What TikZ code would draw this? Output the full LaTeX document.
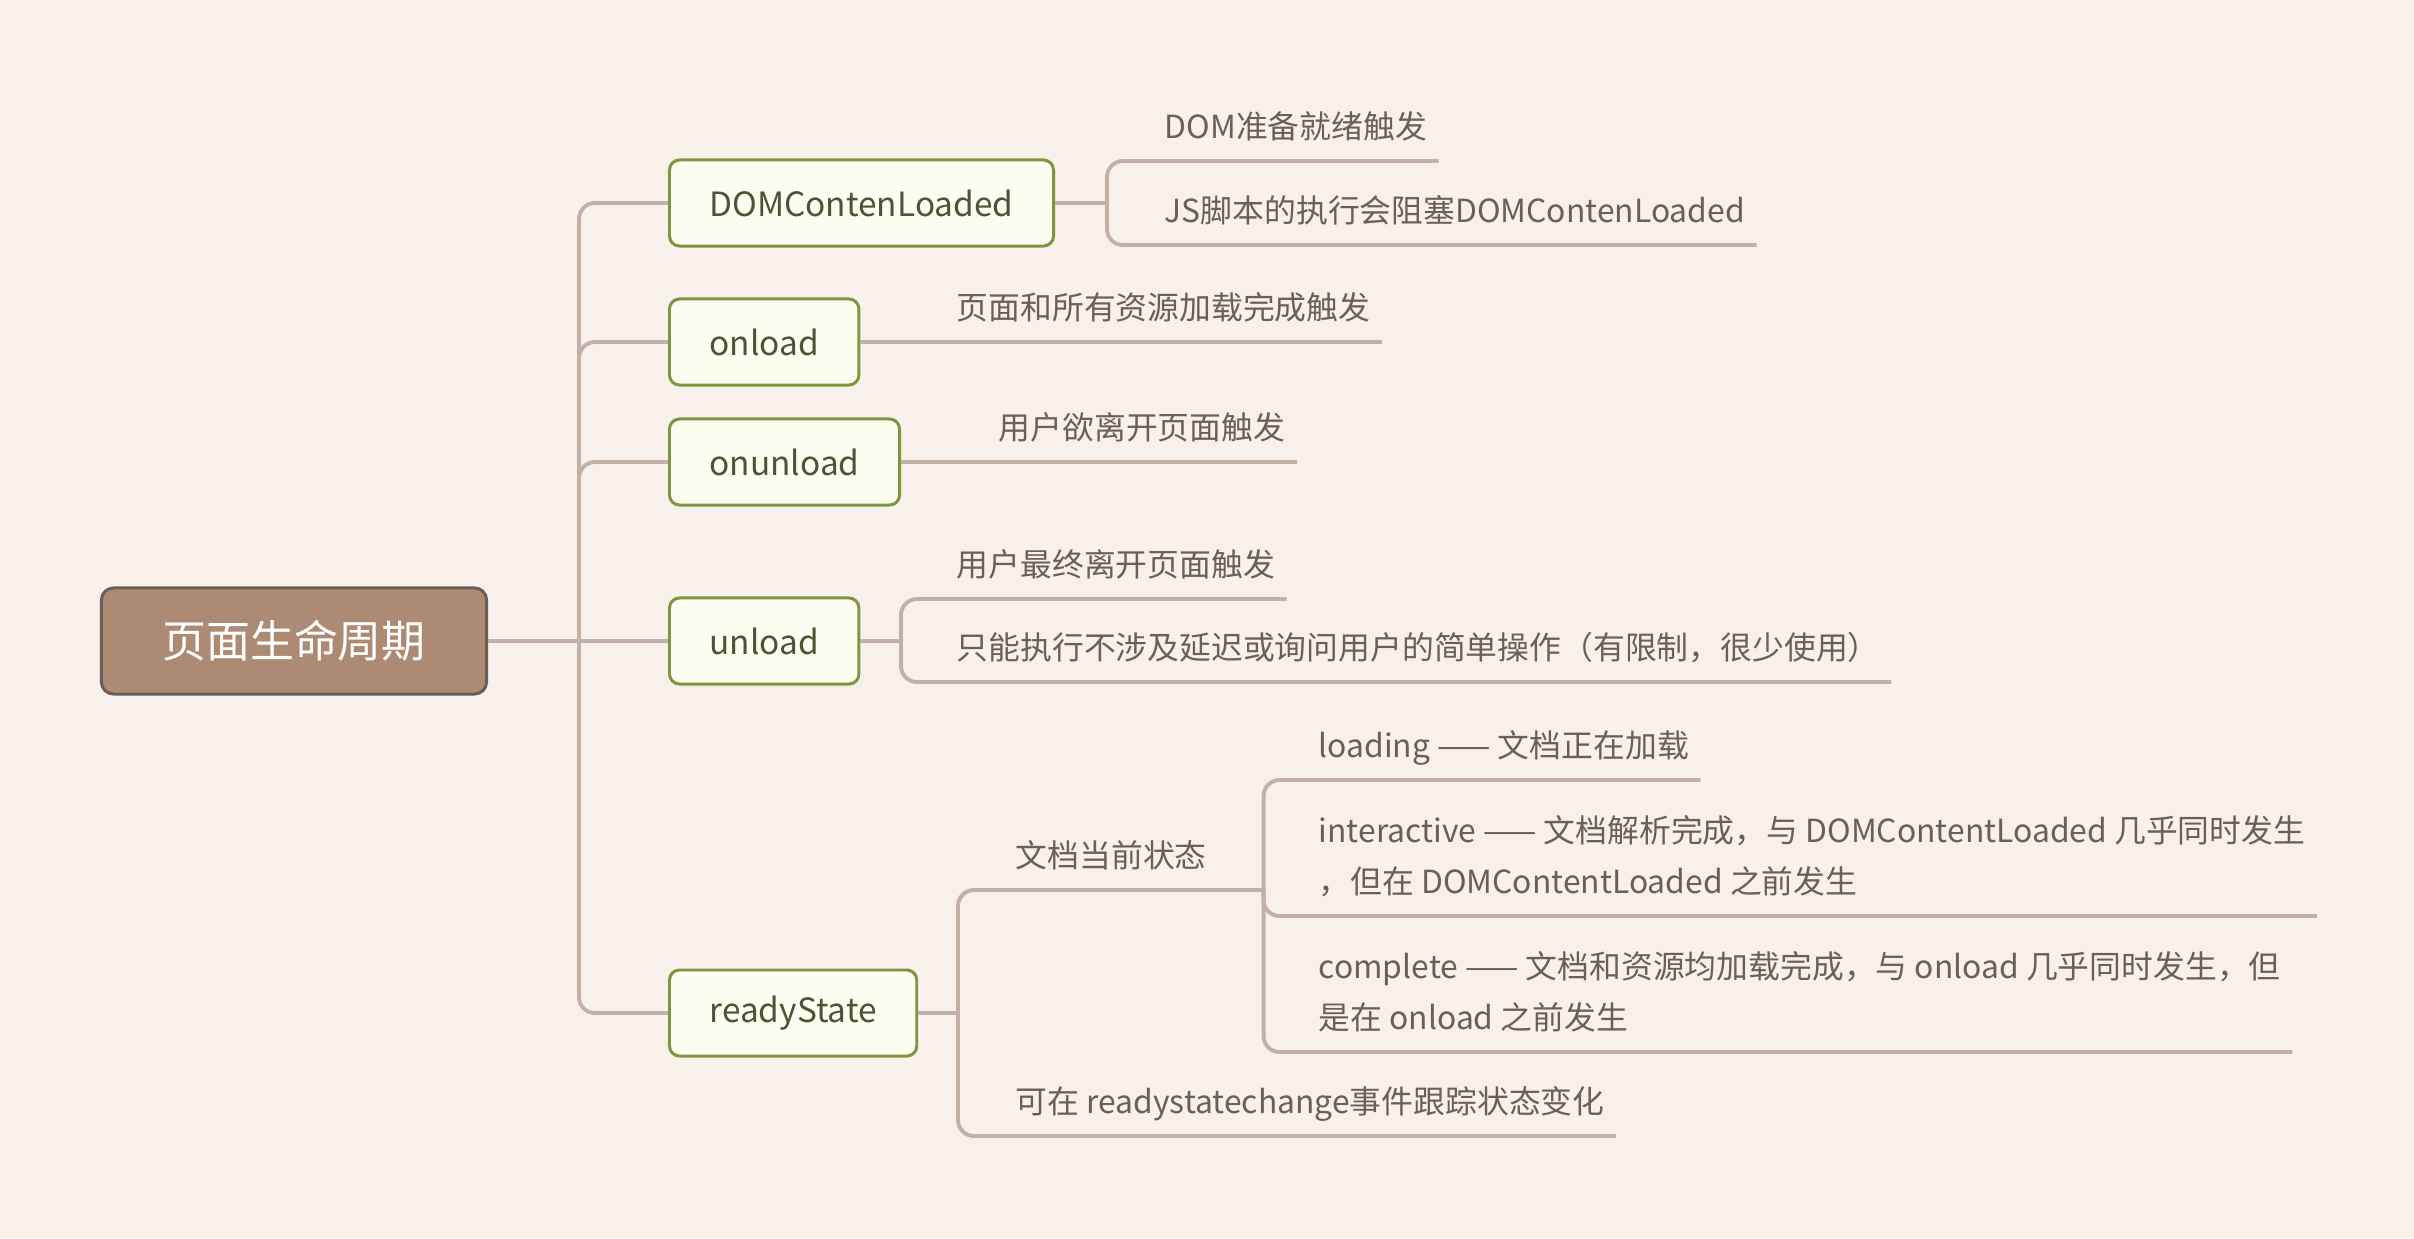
\documentclass[tikz,border=0pt]{standalone}
\usepackage{fontspec}
\setmainfont{Noto Sans CJK SC}
\usepackage{tikz}

\definecolor{bg}{HTML}{F8F0EA}
\definecolor{twig}{HTML}{C4B1A5}
\definecolor{leafink}{HTML}{6B5F56}
\definecolor{boxline}{HTML}{7E9640}
\definecolor{boxfill}{HTML}{FCFDF0}
\definecolor{boxink}{HTML}{4D5433}
\definecolor{rootfill}{HTML}{AD8A73}
\definecolor{rootline}{HTML}{6B5F55}

\tikzset{
  branch/.style={draw=twig, line width=1.1pt, rounded corners=0.16cm},
  root/.style={draw=rootline, fill=rootfill, line width=0.85pt, rounded corners=0.12cm,
    text=white, minimum width=3.85cm, minimum height=1.06cm, font=\fontsize{12.5}{15}\selectfont},
  topic/.style={draw=boxline, fill=boxfill, line width=0.85pt, rounded corners=0.1cm,
    text=boxink, anchor=west, minimum height=0.86cm, inner xsep=0.4cm, font=\fontsize{9.5}{12}\selectfont},
  leaf/.style={anchor=south west, inner xsep=0.11cm, inner ysep=0.22cm, text depth=0pt,
    text=leafink, font=\fontsize{9.05}{14.5}\selectfont},
  leaftwo/.style={leaf, align=left},
}

\begin{document}
\begin{tikzpicture}[x=0.01cm, y=-0.01cm]
  \fill[bg, use as bounding box] (0,0) rectangle (2414,1238);

  % racine et branches principales
  \node[root] (life) at (294,641) {页面生命周期};
  \node[topic] (dom) at (668,203) {DOMContenLoaded};
  \node[topic] (onload) at (668,342) {onload};
  \node[topic] (onunload) at (668,462) {onunload};
  \node[topic] (unload) at (668,641) {unload};
  \node[topic] (ready) at (668,1013) {readyState};

  \coordinate (trunk) at (579,641);
  \coordinate (domfork) at (1107,203);
  \coordinate (unloadfork) at (901,641);
  \coordinate (readyfork) at (958,1013);

  % feuilles
  \node[leaf] (domready) at (1153,161) {DOM准备就绪触发};
  \node[leaf] (jsblock) at (1153,245) {JS脚本的执行会阻塞DOMContenLoaded};
  \node[leaf] (allloaded) at (945,342) {页面和所有资源加载完成触发};
  \node[leaf] (wantleave) at (987,462) {用户欲离开页面触发};
  \node[leaf] (finalleave) at (945,599) {用户最终离开页面触发};
  \node[leaf] (simpleop) at (945,682) {只能执行不涉及延迟或询问用户的简单操作（有限制，很少使用）};
  \node[leaf, text width=2.36cm] (state) at (1004,890) {文档当前状态};
  \node[leaf] (track) at (1004,1136) {可在 readystatechange事件跟踪状态变化};
  \node[leaf] (loading) at (1307,780) {loading —— 文档正在加载};
  \node[leaftwo] (interactive) at (1307,916)
    {interactive —— 文档解析完成，与 DOMContentLoaded 几乎同时发生\\，但在 DOMContentLoaded 之前发生};
  \node[leaftwo] (complete) at (1307,1052)
    {complete —— 文档和资源均加载完成，与 onload 几乎同时发生，但\\是在 onload 之前发生};

  % liens
  \draw[branch] (life.east) -- (unload.west);
  \foreach \t in {dom, onload, onunload, ready}
    \draw[branch] (trunk) |- (\t.west);

  \draw[branch] (dom.east) -- (domfork);
  \foreach \l in {domready, jsblock}
    \draw[branch] (domfork) |- (\l.south east);

  \draw[branch] (onload.east) -- (allloaded.south east);
  \draw[branch] (onunload.east) -- (wantleave.south east);

  \draw[branch] (unload.east) -- (unloadfork);
  \foreach \l in {finalleave, simpleop}
    \draw[branch] (unloadfork) |- (\l.south east);

  \draw[branch] (ready.east) -- (readyfork);
  \foreach \l in {state, track}
    \draw[branch] (readyfork) |- (\l.south east);
  \foreach \l in {loading, interactive, complete}
    \draw[branch] (state.south east) |- (\l.south east);
\end{tikzpicture}
\end{document}
